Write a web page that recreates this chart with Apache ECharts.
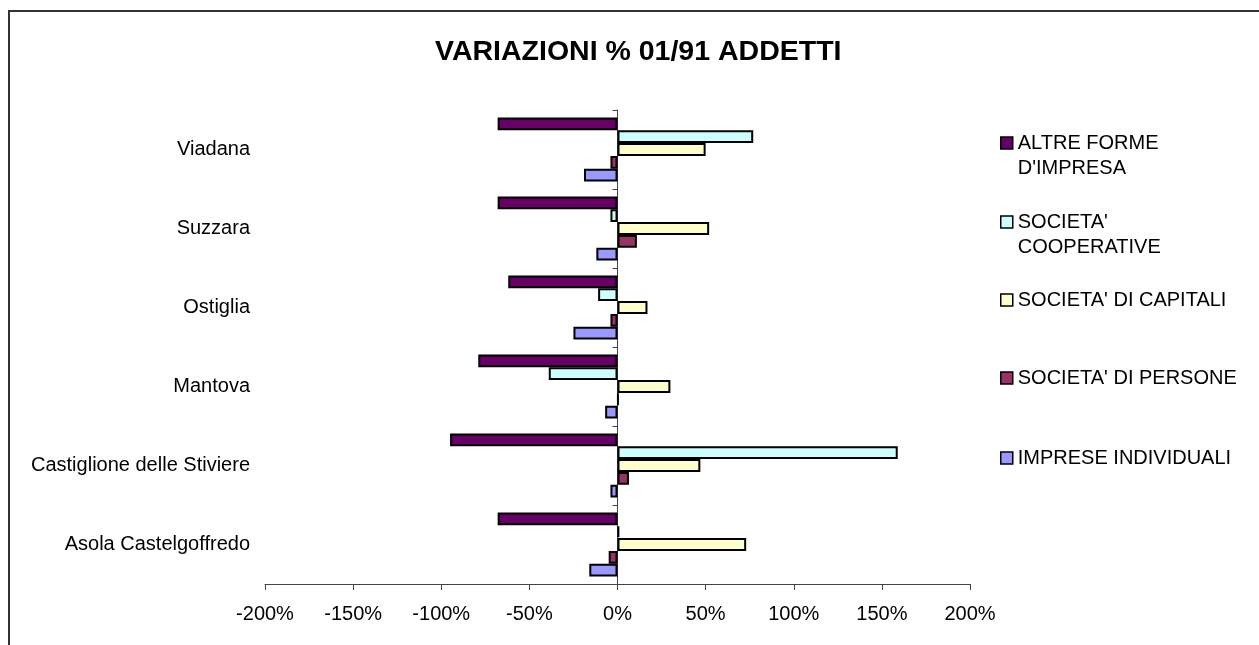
<!DOCTYPE html>
<html>
<head>
<meta charset="utf-8">
<title>VARIAZIONI % 01/91 ADDETTI</title>
<script src="https://cdn.jsdelivr.net/npm/echarts@6/dist/echarts.min.js"></script>
<style>
html, body { margin: 0; padding: 0; background: #fff; }
#main { width: 1259px; height: 645px; }
</style>
</head>
<body>
<div id="main"></div>
<script>
// categorie dal basso verso l'alto
var comuni = ['Asola Castelgoffredo', 'Castiglione delle Stiviere', 'Mantova', 'Ostiglia', 'Suzzara', 'Viadana'];

// variazioni % 01/91 per forma giuridica
var altreForme = [-68, -95, -79, -62, -68, -68];
var cooperative = [1, 159, -39, -11, -4, 77];
var capitali = [73, 47, 30, 17, 52, 50];
var persone = [-5, 6.5, 0.5, -4, 11, -4];
var individuali = [-16, -4, -7, -25, -12, -19];

var nomi = ["ALTRE FORME D'IMPRESA", "SOCIETA' COOPERATIVE", "SOCIETA' DI CAPITALI", "SOCIETA' DI PERSONE", "IMPRESE INDIVIDUALI"];
var valori = [altreForme, cooperative, capitali, persone, individuali];
var colori = ['#660066', '#CCFFFF', '#FFFFCC', '#993366', '#9999FF'];

// testo della legenda su due righe come nell'originale
// (riga vuota sopra, cosi' la prima riga resta allineata al quadratino)
var etichette = {
    "ALTRE FORME D'IMPRESA": " \nALTRE FORME\nD'IMPRESA",
    "SOCIETA' COOPERATIVE": " \nSOCIETA'\nCOOPERATIVE"
};
var centriLegenda = [143, 222, 300, 378, 458];

var font = "'Liberation Sans', Arial, sans-serif";

var chartDom = document.getElementById('main');
var myChart = echarts.init(chartDom);

var series = [];
var legende = [];
for (var i = 0; i < nomi.length; i++) {
    series.push({
        name: nomi[i],
        type: 'bar',
        yAxisIndex: 0,
        data: valori[i],
        barGap: '0%',
        barCategoryGap: '19%',
        itemStyle: { color: colori[i], borderColor: '#000', borderWidth: 2 },
        emphasis: { disabled: true }
    });
    var dueRighe = !!etichette[nomi[i]];
    legende.push({
        data: [{ name: nomi[i], icon: 'rect' }],
        orient: 'vertical',
        left: 1000,
        top: dueRighe ? centriLegenda[i] - 37.5 : centriLegenda[i] - 12.5,
        padding: 0,
        itemWidth: 12,
        itemHeight: 12,
        itemStyle: { borderColor: '#000', borderWidth: 1.5 },
        formatter: function (name) {
            return etichette[name] || name;
        },
        textStyle: {
            fontFamily: font,
            fontSize: 20,
            color: '#000',
            lineHeight: 25
        }
    });
}

var option = {
    backgroundColor: '#fff',
    animation: false,
    title: {
        text: 'VARIAZIONI % 01/91 ADDETTI',
        left: 435,
        top: 38,
        padding: 0,
        textStyle: { fontFamily: font, fontSize: 28.5, fontWeight: 'bold', color: '#000' }
    },
    legend: legende,
    graphic: [{
        // cornice del grafico
        type: 'rect',
        shape: { x: 9, y: 11, width: 1400, height: 1000 },
        style: { fill: 'none', stroke: '#333', lineWidth: 2 },
        silent: true
    }],
    grid: { left: 265, right: 289, top: 110, bottom: 61 },
    xAxis: {
        type: 'value',
        min: -200,
        max: 200,
        interval: 50,
        axisLine: { show: true, lineStyle: { color: '#444', width: 1 } },
        axisTick: { show: true, length: 6, lineStyle: { color: '#444' } },
        axisLabel: { formatter: '{value}%', fontFamily: font, fontSize: 20, color: '#000', margin: 20 },
        splitLine: { show: false }
    },
    yAxis: [{
        // solo etichette a sinistra
        type: 'category',
        data: comuni,
        position: 'left',
        axisLine: { show: false, onZero: false },
        axisTick: { show: false },
        axisLabel: { fontFamily: font, fontSize: 20, color: '#000', margin: 15 }
    }, {
        // asse verticale sullo zero
        type: 'category',
        data: comuni,
        position: 'left',
        axisLine: { show: true, onZero: true, lineStyle: { color: '#444', width: 1 } },
        axisTick: { show: true, length: 5, lineStyle: { color: '#444' } },
        axisLabel: { show: false },
        splitLine: { show: false }
    }],
    series: series
};

myChart.setOption(option);
</script>
</body>
</html>
